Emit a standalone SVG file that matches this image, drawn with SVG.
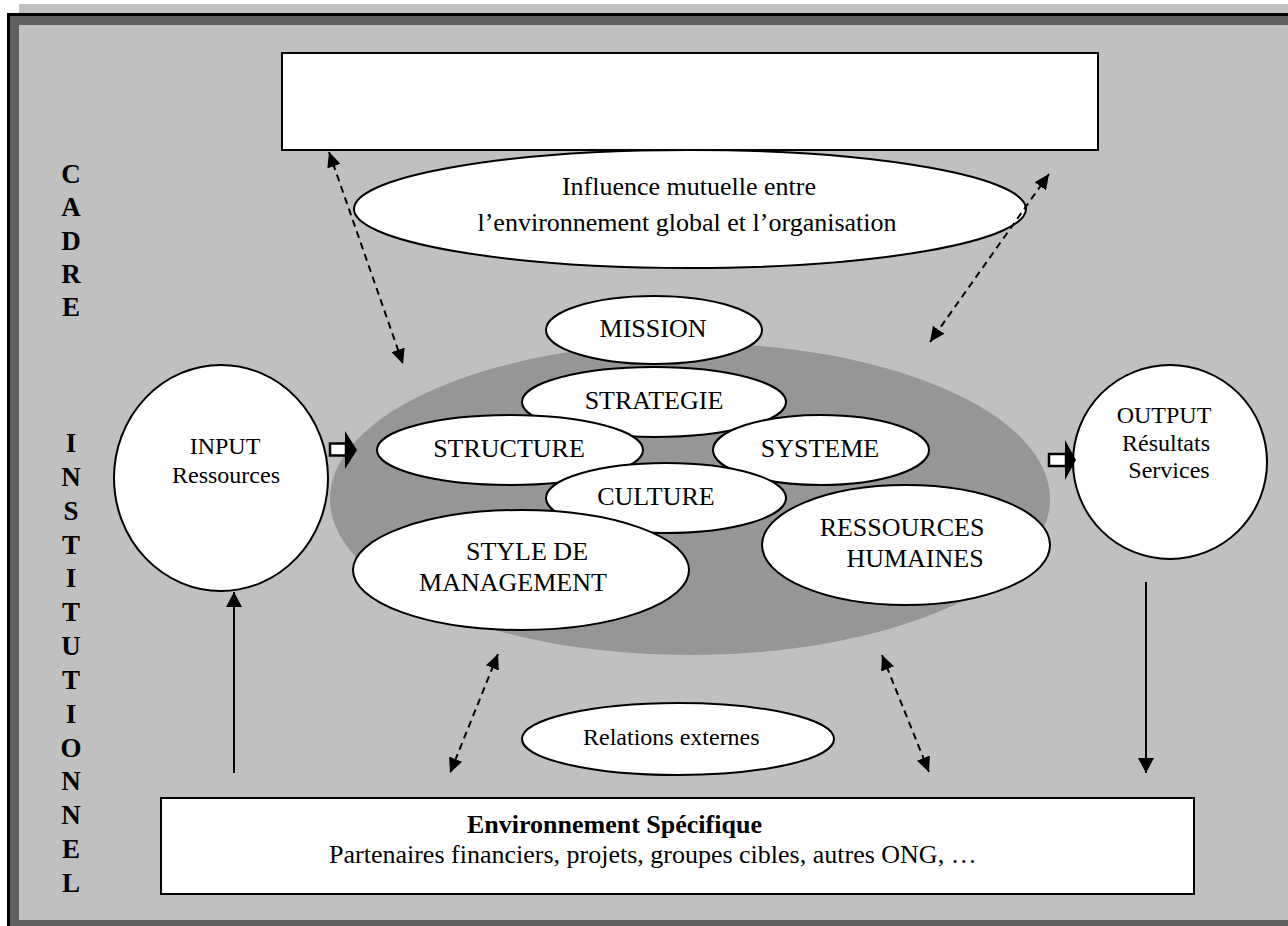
<svg xmlns="http://www.w3.org/2000/svg" width="1288" height="926" viewBox="0 0 1288 926">
<defs>
<style>
.t{font-family:"Liberation Serif","Times New Roman",serif;fill:#000;}
.shape{fill:#fff;stroke:#000;stroke-width:2;}
.dash{fill:none;stroke:#000;stroke-width:2;stroke-dasharray:7 5;}
.solid{fill:none;stroke:#000;stroke-width:2;}
.lbl{font-size:26px;text-anchor:middle;}
.io{font-size:24px;text-anchor:middle;}
.side{font-size:27px;font-weight:bold;text-anchor:middle;}
</style>
<marker id="dh" viewBox="0 0 15 14" refX="15" refY="7" markerWidth="15" markerHeight="14" markerUnits="userSpaceOnUse" orient="auto-start-reverse">
<path d="M0,0 L15,7 L0,14 z" fill="#000"/>
</marker>
<marker id="sh" viewBox="0 0 15 16" refX="15" refY="8" markerWidth="15" markerHeight="16" markerUnits="userSpaceOnUse" orient="auto">
<path d="M0,0 L15,8 L0,16 z" fill="#000"/>
</marker>
</defs>
<rect x="0" y="0" width="1288" height="926" fill="#fff"/>
<g id="frame">
<rect x="19" y="4" width="1269" height="922" fill="#c0c0c0"/>
<rect x="7" y="13" width="1281" height="913" fill="#000"/>
<rect x="10" y="16" width="1278" height="910" fill="#606060"/>
<rect x="19" y="25" width="1269" height="895" fill="#c0c0c0"/>
</g>
<g id="cadre-institutionnel" class="t side">
<text x="71" y="183">C</text>
<text x="71" y="216">A</text>
<text x="71" y="250">D</text>
<text x="71" y="283">R</text>
<text x="71" y="316">E</text>
<text x="71" y="452">I</text>
<text x="71" y="486">N</text>
<text x="71" y="520">S</text>
<text x="71" y="554">T</text>
<text x="71" y="587">I</text>
<text x="71" y="621">T</text>
<text x="71" y="655">U</text>
<text x="71" y="689">T</text>
<text x="71" y="723">I</text>
<text x="71" y="757">O</text>
<text x="71" y="790">N</text>
<text x="71" y="824">N</text>
<text x="71" y="858">E</text>
<text x="71" y="892">L</text>
</g>
<g id="environnement-global">
<rect class="shape" x="282" y="53" width="816" height="97"/>
</g>
<g id="influence">
<ellipse class="shape" cx="690" cy="209" rx="336" ry="59"/>
<text class="t lbl" x="689" y="195">Influence mutuelle entre</text>
<text class="t lbl" x="687" y="231">l’environnement global et l’organisation</text>
</g>
<g id="organisation">
<ellipse cx="690" cy="499" rx="360" ry="156" fill="#969696"/>
</g>
<g id="mission">
<ellipse class="shape" cx="654" cy="330" rx="108" ry="34"/>
<text class="t lbl" x="653" y="337">MISSION</text>
</g>
<g id="strategie">
<ellipse class="shape" cx="654" cy="402" rx="132" ry="35"/>
<text class="t lbl" x="654" y="409">STRATEGIE</text>
</g>
<g id="structure">
<ellipse class="shape" cx="510" cy="450" rx="133" ry="35"/>
<text class="t lbl" x="509" y="457">STRUCTURE</text>
</g>
<g id="systeme">
<ellipse class="shape" cx="821" cy="450" rx="108" ry="35"/>
<text class="t lbl" x="820" y="457">SYSTEME</text>
</g>
<g id="culture">
<ellipse class="shape" cx="666" cy="498" rx="120" ry="35"/>
<text class="t lbl" x="656" y="505">CULTURE</text>
</g>
<g id="style-management">
<ellipse class="shape" cx="521" cy="570" rx="168" ry="60"/>
<text class="t lbl" x="527" y="560">STYLE DE</text>
<text class="t lbl" x="513" y="591">MANAGEMENT</text>
</g>
<g id="ressources-humaines">
<ellipse class="shape" cx="906" cy="545" rx="144" ry="60"/>
<text class="t lbl" x="902" y="536">RESSOURCES</text>
<text class="t lbl" x="915" y="567">HUMAINES</text>
</g>
<g id="input">
<ellipse class="shape" cx="221" cy="478" rx="107" ry="113"/>
<text class="t io" x="225" y="454">INPUT</text>
<text class="t io" x="226" y="483">Ressources</text>
</g>
<g id="output">
<ellipse class="shape" cx="1170" cy="462" rx="97" ry="97"/>
<text class="t io" x="1164" y="423">OUTPUT</text>
<text class="t io" x="1166" y="451">Résultats</text>
<text class="t io" x="1169" y="478">Services</text>
</g>
<g id="relations-externes">
<ellipse class="shape" cx="678" cy="739" rx="156" ry="36"/>
<text class="t" x="583" y="745" font-size="24">Relations externes</text>
</g>
<g id="environnement-specifique">
<rect class="shape" x="161" y="798" width="1033" height="96"/>
<text class="t" x="467" y="833" font-size="26" font-weight="bold">Environnement Spécifique</text>
<text class="t" x="329" y="863" font-size="26">Partenaires financiers, projets, groupes cibles, autres ONG, …</text>
</g>
<g id="connectors">
<rect x="330" y="443.5" width="16" height="12" fill="#fff" stroke="#000" stroke-width="2.5"/>
<polygon points="345,431 357,450 345,469" fill="#000"/>
<rect x="1049" y="454" width="17" height="12" fill="#fff" stroke="#000" stroke-width="2.5"/>
<polygon points="1065,440 1076,460 1065,480" fill="#000"/>
<line class="dash" x1="329" y1="152" x2="403" y2="364" marker-start="url(#dh)" marker-end="url(#dh)"/>
<line class="dash" x1="1049" y1="174" x2="930" y2="342" marker-start="url(#dh)" marker-end="url(#dh)"/>
<line class="dash" x1="498" y1="654" x2="450" y2="773" marker-start="url(#dh)" marker-end="url(#dh)"/>
<line class="dash" x1="882" y1="655" x2="929" y2="772" marker-start="url(#dh)" marker-end="url(#dh)"/>
<line class="solid" x1="234" y1="773" x2="234" y2="592" marker-end="url(#sh)"/>
<line class="solid" x1="1146" y1="582" x2="1146" y2="773" marker-end="url(#sh)"/>
</g>
</svg>
